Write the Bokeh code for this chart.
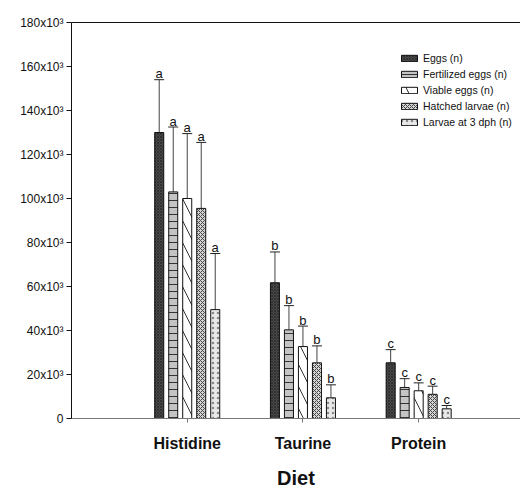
from bokeh.plotting import figure
from bokeh.models import (ColumnDataSource, Legend, LegendItem, LinearAxis,
                          FixedTicker, Range1d)
from bokeh.embed import file_html
from bokeh.resources import INLINE
from bokeh.core.properties import value

# ---------------- data (values in thousands) ----------------
diets = ["Histidine", "Taurine", "Protein"]
series_names = ["Eggs (n)", "Fertilized eggs (n)", "Viable eggs (n)",
                "Hatched larvae (n)", "Larvae at 3 dph (n)"]
eggs = [130.0, 61.7, 25.3]
fertilized = [103.0, 40.3, 14.1]
viable = [100.0, 32.7, 12.6]
hatched = [95.5, 25.3, 11.0]
larvae3 = [49.5, 9.4, 4.4]
eggs_sd = [24.0, 14.0, 6.0]
fertilized_sd = [29.5, 11.0, 4.0]
viable_sd = [29.5, 9.3, 3.6]
hatched_sd = [30.0, 7.7, 3.7]
larvae3_sd = [25.5, 5.9, 1.5]
letters = ["a", "b", "c"]
y_ticks = [0, 20, 40, 60, 80, 100, 120, 140, 160, 180]
y_tick_labels = ["0", "20x10\u00b3", "40x10\u00b3", "60x10\u00b3", "80x10\u00b3",
                 "100x10\u00b3", "120x10\u00b3", "140x10\u00b3", "160x10\u00b3",
                 "180x10\u00b3"]

means = [eggs, fertilized, viable, hatched, larvae3]
sds = [eggs_sd, fertilized_sd, viable_sd, hatched_sd, larvae3_sd]

# ---------------- styling ----------------
offsets = [-0.242, -0.121, 0.0, 0.121, 0.242]
bar_w = 0.078
styles = [
    dict(fill_color="#4a4a4a", hatch_pattern="diagonal_cross", hatch_color="#2a2a2a",
         hatch_scale=3, hatch_weight=0.8),
    dict(fill_color="#c4c4c4", hatch_pattern="horizontal_line", hatch_color="#333333",
         hatch_scale=7, hatch_weight=1),
    dict(fill_color="#ffffff", hatch_pattern="left_diagonal_line", hatch_color="#333333",
         hatch_scale=22, hatch_weight=1),
    dict(fill_color="#d6d6d6", hatch_pattern="diagonal_cross", hatch_color="#444444",
         hatch_scale=4, hatch_weight=1),
    dict(fill_color="#e8e8e8", hatch_pattern="dot", hatch_color="#888888",
         hatch_scale=5, hatch_weight=1),
]
font = "'Liberation Sans', Arial"

p = figure(width=520, height=491, output_backend="svg", toolbar_location=None,
           x_range=Range1d(0, 3.88), y_range=Range1d(0, 180),
           min_border_left=71, min_border_right=0, min_border_top=22,
           min_border_bottom=73)
p.xgrid.visible = False
p.ygrid.visible = False
p.outline_line_color = None
p.background_fill_color = "white"
p.border_fill_color = "white"

xpos = [i + 1 for i in range(len(diets))]
items = []
for s in range(5):
    xs = [x + offsets[s] for x in xpos]
    tops = means[s]
    uppers = [m + d for m, d in zip(means[s], sds[s])]
    src = ColumnDataSource(dict(x=xs, top=tops, upper=uppers, lab=letters))
    p.segment(x0="x", y0="top", x1="x", y1="upper", source=src,
              line_color="#444444", line_width=1)
    p.scatter(x="x", y="upper", marker="dash", size=10, source=src,
              line_color="#222222", line_width=1)
    r = p.vbar(x="x", top="top", width=bar_w, bottom=0, source=src,
               line_color="#111111", line_width=1, **styles[s])
    p.text(x="x", y="upper", text="lab", source=src, text_align="center",
           text_baseline="alphabetic", y_offset=-6, text_font=value(font),
           text_font_size="13px", text_color="#111111")
    items.append(LegendItem(label=series_names[s], renderers=[r]))

legend = Legend(items=items, location=(328, 288), border_line_color=None,
                background_fill_alpha=0, glyph_width=20, glyph_height=8,
                label_height=16, label_standoff=4, spacing=0, padding=0,
                margin=0, label_text_font=font, label_text_font_size="10.5px",
                label_text_color="#111111")
p.add_layout(legend, "center")

# y axis
ya = p.yaxis[0]
ya.ticker = FixedTicker(ticks=y_ticks)
ya.major_label_overrides = {t: l for t, l in zip(y_ticks, y_tick_labels)}
ya.minor_tick_line_color = None
ya.major_tick_in = 0
ya.major_tick_out = 5
ya.axis_line_color = "#111111"
ya.major_tick_line_color = "#111111"
ya.major_label_text_font = font
ya.major_label_text_font_size = "12px"
ya.major_label_text_color = "#111111"
ya.major_label_standoff = 3

# x axis
xa = p.xaxis[0]
xa.ticker = FixedTicker(ticks=xpos)
xa.major_label_overrides = {x: d for x, d in zip(xpos, diets)}
xa.minor_tick_line_color = None
xa.major_tick_in = 0
xa.major_tick_out = 4
xa.axis_line_color = "#777777"
xa.major_tick_line_color = "#777777"
xa.major_label_text_font = font
xa.major_label_text_font_style = "bold"
xa.major_label_text_font_size = "16px"
xa.major_label_text_color = "#111111"
xa.major_label_standoff = 12
xa.axis_label = "Diet"
xa.axis_label_text_font = font
xa.axis_label_text_font_style = "bold"
xa.axis_label_text_font_size = "20px"
xa.axis_label_text_color = "#111111"
xa.axis_label_standoff = 12

# top frame line
top_axis = LinearAxis(ticker=FixedTicker(ticks=[]), major_tick_out=0, major_tick_in=0,
                      minor_tick_out=0, minor_tick_in=0,
                      major_label_text_font_size="0px", axis_line_color="#111111")
p.add_layout(top_axis, "above")

open("out.html", "w").write(file_html(p, INLINE))
